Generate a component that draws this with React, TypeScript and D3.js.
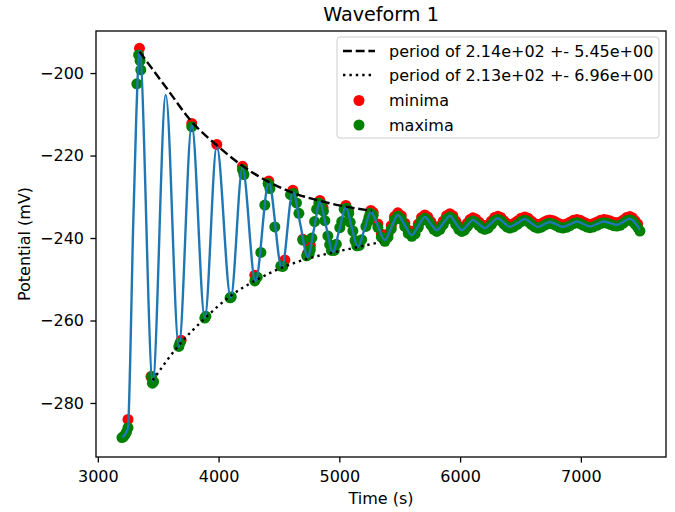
import React, { useRef, useEffect } from 'react'
import * as d3 from 'd3'

// recorded waveform (s, mV)
const waveTime = [
  3200, 3215, 3232, 3250, 3268, 3290, 3318, 3345, 3455, 3563, 3671, 3778, 3886, 3985, 4101, 4198, 4305, 4416, 4524,
  4615, 4677, 4739, 4789, 4839, 4892, 4946, 5000, 5054, 5103, 5153, 5207, 5261, 5319, 5377, 5430, 5484, 5542,
  5600, 5654, 5708, 5757, 5807, 5861, 5915, 5964, 6014, 6060, 6106, 6155, 6205, 6259, 6313, 6362, 6412, 6474,
  6536, 6590, 6644, 6693, 6743, 6797, 6851, 6909, 6967, 7021, 7075, 7133, 7191, 7244, 7298, 7352, 7406, 7448, 7489,
]
const wavePotential = [
  -288.3, -288.0, -287.3, -286.0, -270.0, -240.0, -211.0, -194.5, -274.7, -205.3, -266.4, -212.6, -259.4, -217.7,
  -254.5, -223.0, -250.5, -226.6, -247.3,
  -228.8, -236.7, -244.6, -238.0, -231.3, -237.4, -243.4, -238.0, -232.5, -237.4, -242.2, -238.0, -233.7, -237.1,
  -240.5, -237.5, -234.4, -236.9, -239.3, -237.1, -234.9, -236.5, -238.1, -236.4, -234.6, -236.4, -238.1, -236.9,
  -235.6, -236.6, -237.6, -236.4, -235.2, -236.3, -237.3, -236.4, -235.4, -236.4, -237.3, -236.7, -236.1, -236.7,
  -237.3, -236.7, -236.0, -236.6, -237.2, -236.6, -236.0, -236.4, -236.8, -236.1, -235.3, -236.3, -238.0,
]

// fitted envelopes
const upperEnvTime = [3345, 3563, 3778, 3985, 4198, 4416, 4615, 4839, 5054, 5269]
const upperEnvPotential = [-194.8, -203.4, -211.8, -217.5, -222.5, -226.4, -229.0, -231.0, -232.4, -233.4]
const lowerEnvTime = [3455, 3671, 3886, 4101, 4305, 4524, 4739, 4946, 5153, 5340]
const lowerEnvPotential = [-274.5, -266.0, -259.5, -254.0, -250.3, -247.2, -245.0, -243.5, -242.2, -241.0]

// detected extrema
const minimaTime = [
  3250, 3345, 3440, 3690, 3778, 3985, 4198, 4300, 4416, 4549, 4615, 4698, 4735, 4839, 4950, 5054, 5160, 5261,
  5319, 5377, 5430, 5484, 5542, 5600, 5654, 5708, 5757, 5807, 5861, 5915, 5964, 6014, 6060, 6106, 6155, 6205,
  6259, 6313, 6362, 6412, 6474, 6536, 6590, 6644, 6693, 6743, 6797, 6851, 6909, 6967, 7021, 7075, 7133, 7191,
  7244, 7298, 7352, 7406, 7448,
  5348, 5403, 5457, 5513, 5571, 5627, 5681, 5732, 5782, 5834, 5888, 5940, 5989, 6037, 6083, 6130, 6180, 6232,
  6286, 6337, 6387, 6443, 6505, 6563, 6617, 6668, 6718, 6770, 6824, 6880, 6938, 6994, 7048, 7104, 7162, 7218,
  7271, 7325, 7379, 7427, 7470,
  4760, 4865, 5075, 5280,
]
const minimaPotential = [
  -284.0, -194.0, -273.6, -264.8, -212.2, -217.3, -222.6, -249.0, -226.2, -245.3, -228.4, -240.3, -243.8, -230.9,
  -242.6, -232.1, -241.4, -233.3,
  -236.6, -240.0, -237.0, -233.9, -236.4, -238.8, -236.6, -234.4, -236.0, -237.6, -235.9, -234.1, -235.9, -237.6,
  -236.4, -235.1, -236.1, -237.1, -235.9, -234.7, -235.8, -236.8, -235.9, -234.9, -235.9, -236.8, -236.2, -235.6,
  -236.2, -236.8, -236.2, -235.5, -236.1, -236.7, -236.1, -235.5, -235.9, -236.3, -235.6, -234.8, -235.8,
  -239.0, -239.0, -234.8, -234.6, -238.1, -238.2, -235.0, -234.9, -237.1, -237.1, -234.6, -234.6, -237.1, -237.3,
  -235.5, -235.4, -236.8, -236.8, -235.0, -235.0, -236.5, -236.5, -235.2, -235.2, -236.5, -236.6, -235.8, -235.8,
  -236.6, -236.6, -235.7, -235.7, -236.5, -236.5, -235.7, -235.6, -236.2, -236.1, -235.0, -235.1, -236.6,
  -241.8, -232.6, -233.4, -233.8,
]
const maximaTime = [
  3200, 3212, 3225, 3238, 3250, 3323, 3338, 3350, 3356, 3445, 3452, 3462, 3671, 3680, 3778, 3886, 3895, 4095,
  4105, 4198, 4210, 4300, 4320, 4350, 4383, 4410, 4425, 4466, 4515, 4532, 4596, 4620, 4645, 4665, 4698, 4730,
  4750, 4772, 4795, 4812, 4830, 4850, 4868, 4905, 4935, 4958, 4975, 5004, 5040, 5060, 5078, 5112, 5145, 5165,
  5236, 5255, 5280,
  5319, 5377, 5430, 5484, 5542, 5600, 5654, 5708, 5757, 5807, 5861, 5915, 5964, 6014, 6060, 6106, 6155, 6205,
  6259, 6313, 6362, 6412, 6474, 6536, 6590, 6644, 6693, 6743, 6797, 6851, 6909, 6967, 7021, 7075, 7133, 7191,
  7244, 7298, 7352, 7406, 7448, 7489,
  5348, 5403, 5457, 5513, 5571, 5627, 5681, 5732, 5782, 5834, 5888, 5940, 5989, 6037, 6083, 6130, 6180, 6232,
  6286, 6337, 6387, 6443, 6505, 6563, 6617, 6668, 6718, 6770, 6824, 6880, 6938, 6994, 7048, 7104, 7162, 7218,
  7271, 7325, 7379, 7427, 7470,
  4760, 4880, 4920, 5020, 5090, 5130, 5185, 5220, 5245,
]
const maximaPotential = [
  -288.4, -288.2, -287.7, -287.0, -286.0, -202.6, -195.6, -197.0, -199.2, -273.6, -275.2, -274.8, -266.3, -265.5,
  -213.0, -259.4, -259.0, -254.5, -254.3, -223.4, -224.6, -250.4, -249.5, -243.5, -232.0, -226.8, -228.0, -237.3,
  -246.8, -246.9, -229.5, -229.2, -231.5, -234.0, -240.5, -244.3, -243.9, -240.0, -236.0, -233.0, -231.5, -231.8,
  -233.5, -239.5, -243.0, -243.0, -241.5, -237.5, -233.0, -232.8, -234.0, -238.3, -241.9, -241.8, -236.0, -234.0,
  -234.5,
  -237.4, -240.8, -237.8, -234.7, -237.2, -239.6, -237.4, -235.2, -236.8, -238.4, -236.7, -234.9, -236.7, -238.4,
  -237.2, -235.9, -236.9, -237.9, -236.7, -235.5, -236.6, -237.6, -236.7, -235.7, -236.7, -237.6, -237.0, -236.4,
  -237.0, -237.6, -237.0, -236.3, -236.9, -237.5, -236.9, -236.3, -236.7, -237.1, -236.4, -235.6, -236.6, -238.3,
  -239.8, -239.8, -235.6, -235.4, -238.9, -239.0, -235.8, -235.7, -237.9, -237.9, -235.4, -235.4, -237.9, -238.1,
  -236.3, -236.2, -237.6, -237.6, -235.8, -235.8, -237.3, -237.3, -236.0, -236.0, -237.3, -237.4, -236.6, -236.6,
  -237.4, -237.4, -236.5, -236.5, -237.3, -237.3, -236.5, -236.4, -237.0, -236.9, -235.8, -235.9, -237.4,
  -242.8, -235.8, -241.6, -236.0, -236.2, -240.6, -240.4, -237.2, -235.0,
]

const xTicks = [3000, 4000, 5000, 6000, 7000]
const yTicks = [-280, -260, -240, -220, -200]
const legendLabels = ['period of 2.14e+02 +- 5.45e+00', 'period of 2.13e+02 +- 6.96e+00', 'minima', 'maxima']

const W = 675
const H = 512
const plot = { left: 96, right: 666, top: 31, bottom: 457 }
const FONT = '"DejaVu Sans", Verdana, sans-serif'
const BLUE = '#1f77b4'

const fmt = (d: number) => (d < 0 ? '\u2212' + Math.abs(d) : String(d))
const zip = (t: number[], v: number[]) => t.map((d, i) => [d, v[i]] as [number, number])

export default function App() {
  const xAxisRef = useRef<SVGGElement>(null)
  const yAxisRef = useRef<SVGGElement>(null)

  const x = d3.scaleLinear().domain([2985, 7705]).range([plot.left, plot.right])
  const y = d3.scaleLinear().domain([-293.1, -189.8]).range([plot.bottom, plot.top])

  useEffect(() => {
    const xa = d3.axisBottom(x).tickValues(xTicks).tickSize(5.6).tickPadding(8).tickFormat(d => fmt(+d))
    const ya = d3.axisLeft(y).tickValues(yTicks).tickSize(5.6).tickPadding(6.4).tickFormat(d => fmt(+d))

    const gx = d3.select(xAxisRef.current).call(xa as any)
    const gy = d3.select(yAxisRef.current).call(ya as any)
    for (const g of [gx, gy]) {
      g.select('.domain').remove()
      g.attr('font-size', 16).attr('font-family', FONT)
      g.selectAll('line').attr('stroke', '#000').attr('stroke-width', 1.3)
      g.selectAll('text').attr('fill', '#000')
    }
  }, [])

  const line = d3.line<[number, number]>().x(d => x(d[0])).y(d => y(d[1])).curve(d3.curveMonotoneX)

  const wave = zip(waveTime, wavePotential)
  const upper = zip(upperEnvTime, upperEnvPotential)
  const lower = zip(lowerEnvTime, lowerEnvPotential)
  const minima = zip(minimaTime, minimaPotential)
  const maxima = zip(maximaTime, maximaPotential)

  const r = 5.5
  const legendX = 337
  const legendRows = [51, 75, 100.5, 125]

  return (
    <svg
      width={W}
      height={H}
      style={{ position: 'absolute', left: 0, top: 0, background: '#fff' }}
      fontFamily={FONT}
    >
      <defs>
        <clipPath id="plotClip">
          <rect x={plot.left} y={plot.top} width={plot.right - plot.left} height={plot.bottom - plot.top} />
        </clipPath>
      </defs>

      <text x={(plot.left + plot.right) / 2} y={21} textAnchor="middle" fontSize={19.2}>
        Waveform 1
      </text>

      <g clipPath="url(#plotClip)">
        {minima.map((d, i) => (
          <circle key={'mn' + i} cx={x(d[0])} cy={y(d[1])} r={r} fill="red" />
        ))}
        {maxima.map((d, i) => (
          <circle key={'mx' + i} cx={x(d[0])} cy={y(d[1])} r={r} fill="green" />
        ))}
        <path d={line(wave) || ''} fill="none" stroke={BLUE} strokeWidth={2.4} strokeLinejoin="round" />
        <path d={line(upper) || ''} fill="none" stroke="#000" strokeWidth={2.4} strokeDasharray="8.9 3.8" />
        <path d={line(lower) || ''} fill="none" stroke="#000" strokeWidth={2.4} strokeDasharray="2.4 4" />
      </g>

      <rect
        x={plot.left}
        y={plot.top}
        width={plot.right - plot.left}
        height={plot.bottom - plot.top}
        fill="none"
        stroke="#000"
        strokeWidth={1.3}
      />

      <g ref={xAxisRef} transform={`translate(0,${plot.bottom})`} />
      <g ref={yAxisRef} transform={`translate(${plot.left},0)`} />

      <text x={(plot.left + plot.right) / 2} y={504} textAnchor="middle" fontSize={16}>
        Time (s)
      </text>
      <text
        transform={`translate(25,${(plot.top + plot.bottom) / 2}) rotate(-90)`}
        textAnchor="middle"
        dominantBaseline="middle"
        fontSize={16}
      >
        Potential (mV)
      </text>

      <g>
        <rect x={legendX} y={37} width={322} height={101} rx={3} fill="#fff" fillOpacity={0.8} stroke="#ccc" />
        <line x1={343} x2={375} y1={legendRows[0]} y2={legendRows[0]} stroke="#000" strokeWidth={2.4} strokeDasharray="8.9 3.8" />
        <line x1={343} x2={375} y1={legendRows[1]} y2={legendRows[1]} stroke="#000" strokeWidth={2.4} strokeDasharray="2.4 4" />
        <circle cx={359} cy={legendRows[2]} r={r} fill="red" />
        <circle cx={359} cy={legendRows[3]} r={r} fill="green" />
        {legendLabels.map((t, i) => (
          <text key={t} x={389} y={legendRows[i] + 5.8} fontSize={16}>
            {t}
          </text>
        ))}
      </g>
    </svg>
  )
}
